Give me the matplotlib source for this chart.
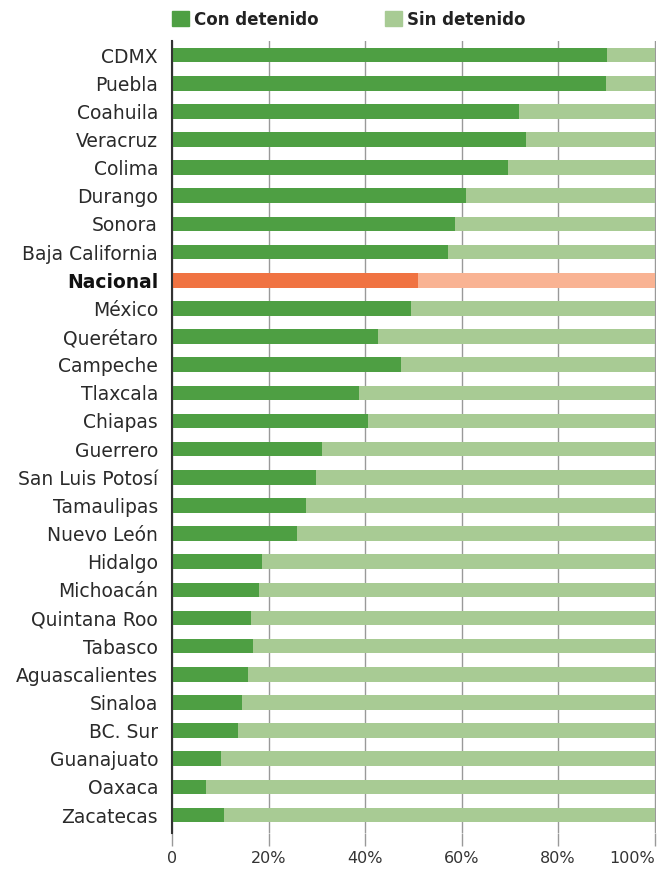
import matplotlib.pyplot as plt
from matplotlib.patches import Patch
import numpy as np

plt.rcParams['font.family'] = ['DejaVu Sans']

estados = ["CDMX", "Puebla", "Coahuila", "Veracruz", "Colima", "Durango", "Sonora",
           "Baja California", "Nacional", "México", "Querétaro", "Campeche", "Tlaxcala",
           "Chiapas", "Guerrero", "San Luis Potosí", "Tamaulipas", "Nuevo León", "Hidalgo",
           "Michoacán", "Quintana Roo", "Tabasco", "Aguascalientes", "Sinaloa", "BC. Sur",
           "Guanajuato", "Oaxaca", "Zacatecas"]
con_detenido = [90.1, 89.9, 71.9, 73.3, 69.6, 61.0, 58.7, 57.2, 51.0, 49.6, 42.6, 47.5, 38.8,
                40.7, 31.0, 29.8, 27.7, 26.0, 18.6, 18.0, 16.3, 16.7, 15.7, 14.5, 13.6,
                10.1, 7.0, 10.7]
sin_detenido = [100 - v for v in con_detenido]
ticks = [0, 20, 40, 60, 80, 100]
tick_labels = ["0", "20%", "40%", "60%", "80%", "100%"]

verde = "#4E9F43"
verde_claro = "#A8CB94"
naranja = "#F07342"
naranja_claro = "#F9B393"

fig = plt.figure(figsize=(6.68, 8.69), dpi=100)
ax = fig.add_axes([0.2575, 0.0414, 0.7245, 0.9114])

y = np.arange(len(estados))
c1 = [naranja if e == "Nacional" else verde for e in estados]
c2 = [naranja_claro if e == "Nacional" else verde_claro for e in estados]
ax.barh(y, con_detenido, height=0.52, color=c1, zorder=2)
ax.barh(y, sin_detenido, left=con_detenido, height=0.52, color=c2, zorder=2)

ax.set_xlim(0, 100.3)
ax.set_ylim(27.64, -0.5)
ax.set_yticks(y)
ax.set_yticklabels(estados, fontsize=13.5, color="#2a2a2a")
for lbl in ax.get_yticklabels():
    if lbl.get_text() == "Nacional":
        lbl.set_fontweight("bold")
        lbl.set_color("#111111")
ax.tick_params(axis="y", length=0, pad=10)

ax.set_xticks(ticks)
ax.set_xticklabels(tick_labels, fontsize=11.5, color="#333333")
ax.get_xticklabels()[-1].set_horizontalalignment("right")
ax.tick_params(axis="x", length=9, color="#999999", width=1, pad=4)
ax.grid(axis="x", color="#999999", linewidth=1, zorder=0)

for s in ["top", "right", "bottom"]:
    ax.spines[s].set_visible(False)
ax.spines["left"].set_color("#333333")
ax.spines["left"].set_linewidth(1.5)
ax.spines["left"].set_zorder(3)

handles = [Patch(color=verde, label="Con detenido"), Patch(color=verde_claro, label="Sin detenido")]
leg = fig.legend(handles=handles, loc="upper left", bbox_to_anchor=(0.235, 1.005), ncol=2,
                 frameon=False, handlelength=1.0, handleheight=1.0, handletextpad=0.3,
                 columnspacing=4.0, prop={"weight": "bold", "size": 12})
for t in leg.get_texts():
    t.set_color("#222222")

fig.savefig("out.png", dpi=100)
